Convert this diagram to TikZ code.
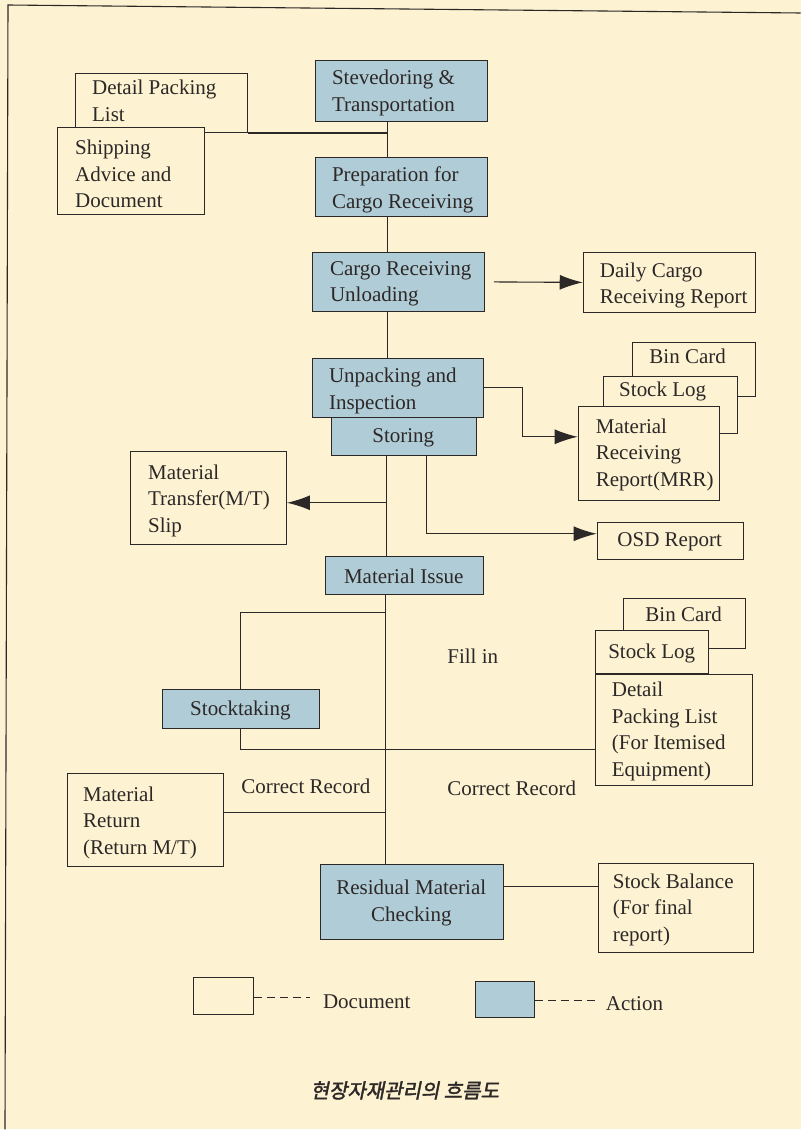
\documentclass[tikz,border=0pt]{standalone}
\usepackage{fontspec}
\setmainfont{Liberation Serif}
\newfontfamily\krfont[FakeSlant=0.2,FakeBold=2]{Noto Sans CJK KR}
\usetikzlibrary{arrows.meta,calc}
\definecolor{bg}{RGB}{253,243,210}
\definecolor{act}{RGB}{176,204,214}
\definecolor{ink}{RGB}{45,40,40}
\newcommand\boxfont{\fontsize{21}{26.5}\selectfont}
\begin{document}
\begin{tikzpicture}[x=1pt,y=-1pt,
  docbox/.style={draw=ink, fill=bg, line width=1.1pt, inner sep=0pt, anchor=north west},
  actbox/.style={draw=ink, fill=act, line width=1.1pt, inner sep=0pt, anchor=north west},
  txt/.style={font=\boxfont, text=ink, align=left, inner sep=0pt, anchor=west, yshift=-2pt},
  ctxt/.style={font=\boxfont, text=ink, align=center, inner sep=0pt, yshift=-2pt},
  conn/.style={draw=ink, line width=1.1pt},
  arr/.style={conn, -{Latex[length=23pt,width=15pt]}}]
\fill[bg] (0,0) rectangle (801,1130);
\draw[ink, line width=1.1pt] (5,1130) -- (8,5) -- (801,13);
\coordinate (tx) at (388,0);
\coordinate (bx) at (386,0);

% ---- actions
\node[actbox, minimum width=172pt, minimum height=61pt] (stev) at (315,60) {};
\node[txt] (stevt) at (332,91) {Stevedoring \&\\Transportation};
\node[actbox, minimum width=172pt, minimum height=59pt] (prep) at (315,157) {};
\node[txt] (prept) at (332,188) {Preparation for\\Cargo Receiving};
\node[actbox, minimum width=172pt, minimum height=59pt] (cargo) at (312,252) {};
\node[txt] (cargot) at (330,282) {Cargo Receiving\\Unloading};
\node[actbox, minimum width=171pt, minimum height=59pt] (unp) at (312,358) {};
\node[txt] (unpt) at (329,389) {Unpacking and\\Inspection};
\node[actbox, minimum width=145pt, minimum height=38pt] (stor) at (331,417) {};
\node[ctxt] (stort) at (403.5,436) {Storing};
\node[actbox, minimum width=158pt, minimum height=38pt] (mi) at (325,556) {};
\node[ctxt] (mit) at (404,575) {Material Issue};
\node[actbox, minimum width=157pt, minimum height=39pt] (stk) at (162,689) {};
\node[ctxt] (stkt) at (240.5,708.5) {Stocktaking};
\node[actbox, minimum width=183pt, minimum height=75pt] (resid) at (320,864) {};
\node[ctxt] (residt) at (411.5,901.5) {Residual Material\\Checking};

% ---- documents
\node[docbox, minimum width=172pt, minimum height=59pt] (dpl) at (75,73) {};
\node[txt] (dplt) at (92,99) {Detail Packing\\List};
\node[docbox, minimum width=147pt, minimum height=87pt] (ship) at (57,127) {};
\node[txt] (shipt) at (75,172) {Shipping\\Advice and\\Document};
\node[docbox, minimum width=156pt, minimum height=93pt] (mt) at (130,451) {};
\node[txt] (mtt) at (148,499) {Material\\Transfer(M/T)\\Slip};
\node[docbox, minimum width=172pt, minimum height=60pt] (daily) at (583,252) {};
\node[txt] (dailyt) at (600,283.5) {Daily Cargo\\Receiving Report};
\node[docbox, minimum width=123pt, minimum height=54pt] (bina) at (632,342) {};
\node[ctxt] (binat) at (688,354) {Bin Card};
\node[docbox, minimum width=134pt, minimum height=57pt] (stla) at (603,376) {};
\node[ctxt] (stlat) at (663,390) {Stock Log};
\node[docbox, minimum width=141pt, minimum height=94pt] (mrr) at (578,406) {};
\node[txt] (mrrt) at (596,453) {Material\\Receiving\\Report(MRR)};
\node[docbox, minimum width=146pt, minimum height=37pt] (osd) at (597,522) {};
\node[ctxt] (osdt) at (670,540.5) {OSD Report};
\node[docbox, minimum width=122pt, minimum height=50pt] (binb) at (623,598) {};
\node[ctxt] (binbt) at (684,613) {Bin Card};
\node[docbox, minimum width=113pt, minimum height=43pt] (stlb) at (595,630) {};
\node[ctxt] (stlbt) at (652,652) {Stock Log};
\node[docbox, minimum width=157pt, minimum height=111pt] (dplb) at (595,674) {};
\node[txt] (dplbt) at (612,730) {Detail\\Packing List\\(For Itemised\\Equipment)};
\node[docbox, minimum width=155pt, minimum height=89pt] (sb) at (598,863) {};
\node[txt] (sbt) at (613,908) {Stock Balance\\(For final\\report)};
\node[docbox, minimum width=156pt, minimum height=93pt] (mr) at (67,773) {};
\node[txt] (mrt) at (83,821) {Material\\Return\\(Return M/T)};

% ---- labels
\node[ctxt] (fill) at (473,655) {Fill in};
\node[ctxt] (cr1) at (306,785) {Correct Record};
\node[ctxt] (cr2) at (512,787) {Correct Record};

% ---- connectors
\draw[conn] (stev.south -| tx) -- (prep.north -| tx);
\draw[conn] (dpl.south east) -- (dpl.south east -| tx);
\draw[conn] (prep.south -| tx) -- (cargo.north -| tx);
\draw[conn] (cargo.south -| tx) -- (unp.north -| tx);
\draw[arr] ([xshift=9pt]cargo.east) -- (daily.west);
\coordinate (c1) at (523,437);
\draw[arr] (unp.east) -| (c1) -- (c1 -| mrr.west);
\coordinate (c2) at (427,534);
\draw[arr] (stor.south -| c2) -- (c2) -- (c2 -| osd.west);
\draw[conn] (stor.south -| 387,0) -- (mi.north -| 387,0);
\coordinate (c3) at (387,503);
\draw[arr] (c3) -- (c3 -| mt.east);
\draw[conn] (mi.south -| bx) -- (resid.north -| bx);
\coordinate (c4) at (386,613);
\draw[conn] (c4) -| (stk.north);
\coordinate (c5) at (0,750);
\draw[conn] (stk.south) |- (c5 -| dplb.west);
\coordinate (c6) at (386,813);
\draw[conn] (c6 -| mr.east) -- (c6);
\coordinate (c7) at (0,887);
\draw[conn] (c7 -| resid.east) -- (c7 -| sb.west);

% ---- legend
\node[docbox, minimum width=60pt, minimum height=37pt] (lgdoc) at (193,977) {};
\coordinate (ld) at (310,998);
\draw[conn, dash pattern=on 8pt off 5pt] (lgdoc.east |- ld) -- (ld);
\node[txt] (lgdoct) at (323,1000) {Document};
\node[actbox, minimum width=59pt, minimum height=36pt] (lgact) at (475,981) {};
\coordinate (la) at (597,1001);
\draw[conn, dash pattern=on 8pt off 5pt] (lgact.east |- la) -- (la);
\node[txt] (lgactt) at (606,1002) {Action};

% ---- caption
\node[inner sep=0pt, text=ink] (cap) at (405,1091) {\krfont\fontsize{20}{22}\selectfont 현장자재관리의 흐름도};
\end{tikzpicture}
\end{document}
